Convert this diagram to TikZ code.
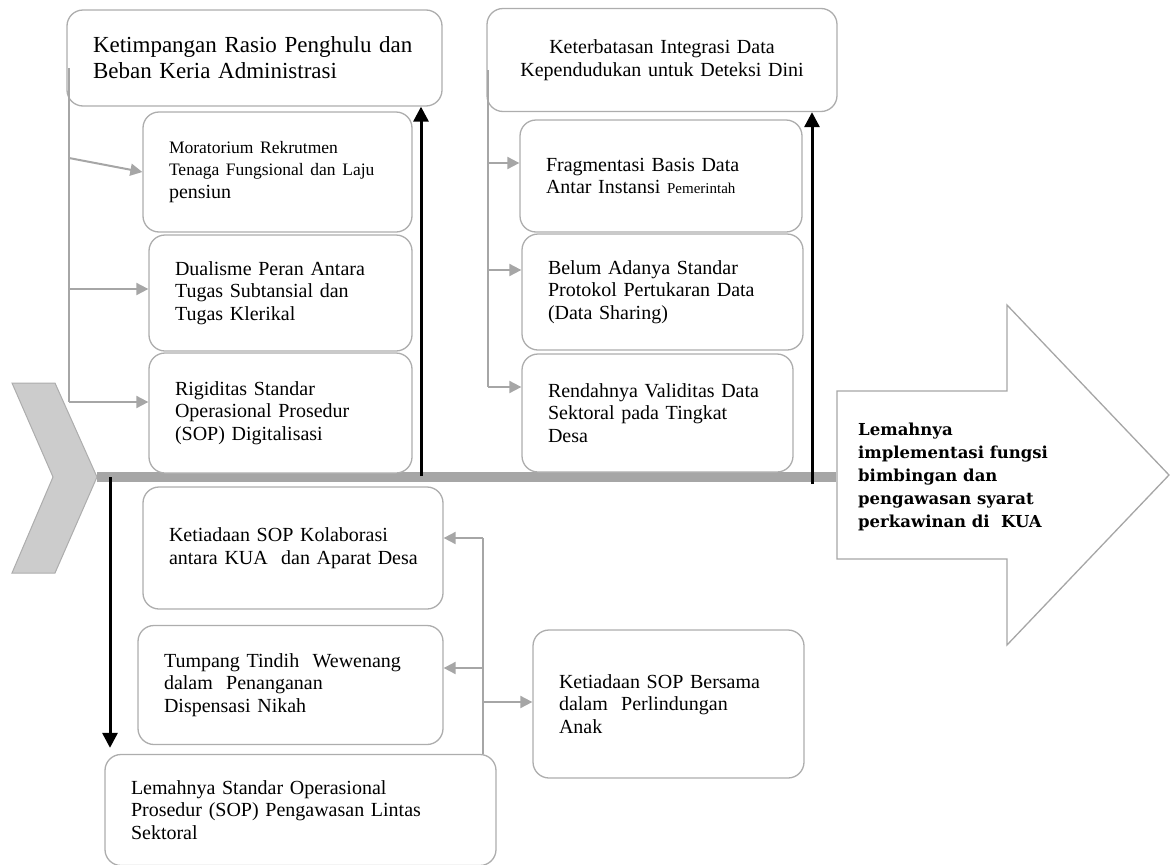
\documentclass[tikz,border=0pt]{standalone}
\usepackage{fontspec}
\setmainfont{Liberation Serif}
\newfontfamily\effectfont{DejaVu Serif}
\usepackage{tikz}
\usepackage{xcolor}
\usetikzlibrary{arrows.meta,positioning}

\definecolor{boxgray}{HTML}{ADADAD}
\definecolor{linegray}{HTML}{A6A6A6}
\definecolor{chevfill}{HTML}{CCCCCC}

\tikzset{
	cause/.style={draw=boxgray, line width=1.3pt, fill=white, rounded corners=16pt,
		inner xsep=26pt, inner ysep=0pt, align=left,
		font=\fontsize{20}{22.5}\selectfont},
	branch/.style={draw=linegray, line width=2pt},
	branchto/.style={branch, -{Triangle[length=12pt,width=12pt]}},
	bone/.style={draw=black, line width=3pt, -{Triangle[length=15pt,width=15pt]}}
}

\begin{document}
\begin{tikzpicture}[x=1pt,y=-1pt]
		\useasboundingbox (0,0) rectangle (1171,865);
		% tail and spine
		\draw[draw=boxgray, fill=chevfill, line width=1pt] (12,383) -- (55,383) -- (97,477) -- (55,573) -- (12,573) -- (53,477) -- cycle;
		\draw[linegray, line width=10pt] (97,477) -- (836,477);
		% effect
		\draw[draw=linegray, fill=white, line width=1.3pt] (837,391) -- (1007,391) -- (1007,305) -- (1169,475)
			-- (1007,645) -- (1007,559) -- (837,559) -- cycle;
		\node[anchor=west, inner sep=0pt, align=left, font=\effectfont\fontsize{16.5}{23}\selectfont\bfseries] (dampak) at (858,477)
			{Lemahnya\\implementasi fungsi\\bimbingan dan\\pengawasan syarat\\perkawinan di\ \ KUA};
		% upper left group
		\node[cause, text width=323pt, minimum height=96pt, font=\fontsize{23}{26}\selectfont] (rasio) at (254.5,58)
			{Ketimpangan Rasio Penghulu dan\\Beban Keria Administrasi};
		\node[cause, text width=217pt, minimum height=120pt] (rekrut) at (277.5,172)
			{{\fontsize{17.5}{19.5}\selectfont Moratorium Rekrutmen\\Tenaga Fungsional dan Laju}\\pensiun};
		\node[cause, text width=211pt, minimum height=116pt] (dualisme) at (280.5,293) 
			{Dualisme Peran Antara\\Tugas Subtansial dan\\Tugas Klerikal};
		\node[cause, text width=211pt, minimum height=120pt] (rigid) at (280.5,413)
			{Rigiditas Standar\\Operasional Prosedur\\(SOP) Digitalisasi};
		% upper right group
		\node[cause, text width=298pt, minimum height=103pt, align=center] (integrasi) at (662,60)
			{Keterbatasan Integrasi Data\\Kependudukan untuk Deteksi Dini};
		\node[cause, text width=230pt, minimum height=112pt] (fragmen) at (661,176)
			{Fragmentasi Basis Data\\Antar Instansi {\fontsize{15}{18}\selectfont Pemerintah}};
		\node[cause, text width=229pt, minimum height=116pt] (protokol) at (662.5,292)
			{Belum Adanya Standar\\Protokol Pertukaran Data\\(Data Sharing)};
		\node[cause, text width=219pt, minimum height=118pt] (validitas) at (657.5,413)
			{Rendahnya Validitas Data\\Sektoral pada Tingkat\\Desa};
		% lower group
		\node[cause, text width=248pt, minimum height=122pt] (kolab) at (293,548)
			{Ketiadaan SOP Kolaborasi\\\mbox{antara KUA\ \ dan Aparat Desa}};
		\node[cause, text width=253pt, minimum height=119pt] (tumpang) at (290.5,685)
			{Tumpang Tindih\ \ Wewenang\\dalam\ \ Penanganan\\Dispensasi Nikah};
		\node[cause, text width=339pt, minimum height=111pt] (sopawas) at (300.5,810)
			{Lemahnya Standar Operasional\\Prosedur (SOP) Pengawasan Lintas\\Sektoral};
		\node[cause, text width=219pt, minimum height=148pt] (lindung) at (668.5,704)
			{Ketiadaan SOP Bersama\\dalam\ \ Perlindungan\\Anak};
		% branch points
		\coordinate (kiriA) at (69,68);
		\coordinate (kiriB) at (69,158);
		\coordinate (kiriC) at (69,289);
		\coordinate (kiriD) at (69,402);
		\coordinate (kananA) at (488,70);
		\coordinate (kananB) at (488,163);
		\coordinate (kananC) at (488,270);
		\coordinate (kananD) at (488,387);
		\coordinate (bawahA) at (483,538);
		\coordinate (bawahB) at (483,668);
		\coordinate (bawahC) at (483,702);
		\draw[branch] (kiriA) -- (kiriD);
		\draw[branchto] (kiriB) -- (rekrut.west);
		\draw[branchto] (kiriC) -- (kiriC -| dualisme.west);
		\draw[branchto] (kiriD) -- (kiriD -| rigid.west);
		\draw[branch] (kananA) -- (kananD);
		\draw[branchto] (kananB) -- (kananB -| fragmen.west);
		\draw[branchto] (kananC) -- (kananC -| protokol.west);
		\draw[branchto] (kananD) -- (kananD -| validitas.west);
		\draw[branch] (bawahA) -- (bawahA |- sopawas.north);
		\draw[branchto] (bawahA) -- (bawahA -| kolab.east);
		\draw[branchto] (bawahB) -- (bawahB -| tumpang.east);
		\draw[branchto] (bawahC) -- (bawahC -| lindung.west);
		% main bones
		\coordinate (tulangA) at (421,476);
		\coordinate (tulangB) at (812,484);
		\coordinate (tulangC) at (110,477);
		\draw[bone] (tulangA) -- (tulangA |- rasio.south);
		\draw[bone] (tulangB) -- (tulangB |- integrasi.south);
		\draw[bone] (tulangC) -- ([yshift=6pt]tulangC |- sopawas.north);
	\end{tikzpicture}
\end{document}
